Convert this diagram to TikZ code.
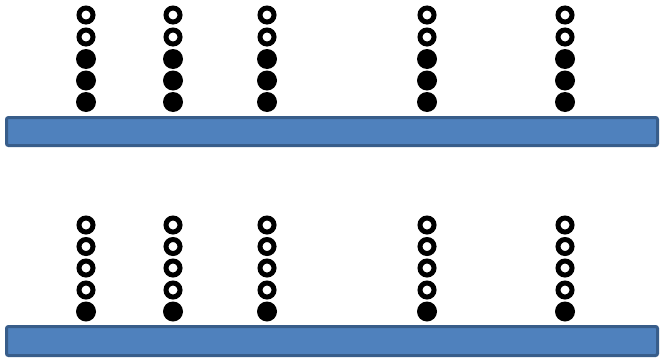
\documentclass[tikz,border=0pt]{standalone}
\usepackage{xcolor}
\usepackage{tikz}
\usetikzlibrary{positioning, calc}

\definecolor{barfill}{HTML}{4F81BD}
\definecolor{barline}{HTML}{385D8A}

\tikzset{
  rail/.style={rectangle, draw=barline, fill=barfill, line width=3pt, rounded corners=2pt,
    inner sep=0pt, minimum width=651pt, minimum height=28pt},
  beadfull/.style={circle, fill=black, inner sep=0pt, minimum size=20pt},
  beadopen/.style={circle, draw=black, line width=5pt, fill=white, inner sep=0pt, minimum size=14pt}
}

\begin{document}
\begin{tikzpicture}[x=1pt, y=-1pt]
\useasboundingbox (0,0) rectangle (661,359);

% Bars
\node[rail] (railT) at (332,131.5) {};
\node[rail, minimum height=29pt] (railB) at (332,341) {};

% Beads on the upper bar: two open, three full
\foreach \x [count=\c] in {86,173,267,427,565} {
  \foreach \y [count=\r] in {15,37,59,80.5,102} {
    \ifnum\r<3
      \node[beadopen] (top-\c-\r) at (\x,\y) {};
    \else
      \node[beadfull] (top-\c-\r) at (\x,\y) {};
    \fi
  }
}

% Beads on the lower bar: four open, one full
\foreach \x [count=\c] in {86,173,267,427,565} {
  \foreach \y [count=\r] in {225,246.5,268,290,311.5} {
    \ifnum\r<5
      \node[beadopen] (bot-\c-\r) at (\x,\y) {};
    \else
      \node[beadfull] (bot-\c-\r) at (\x,\y) {};
    \fi
  }
}

\end{tikzpicture}
\end{document}
